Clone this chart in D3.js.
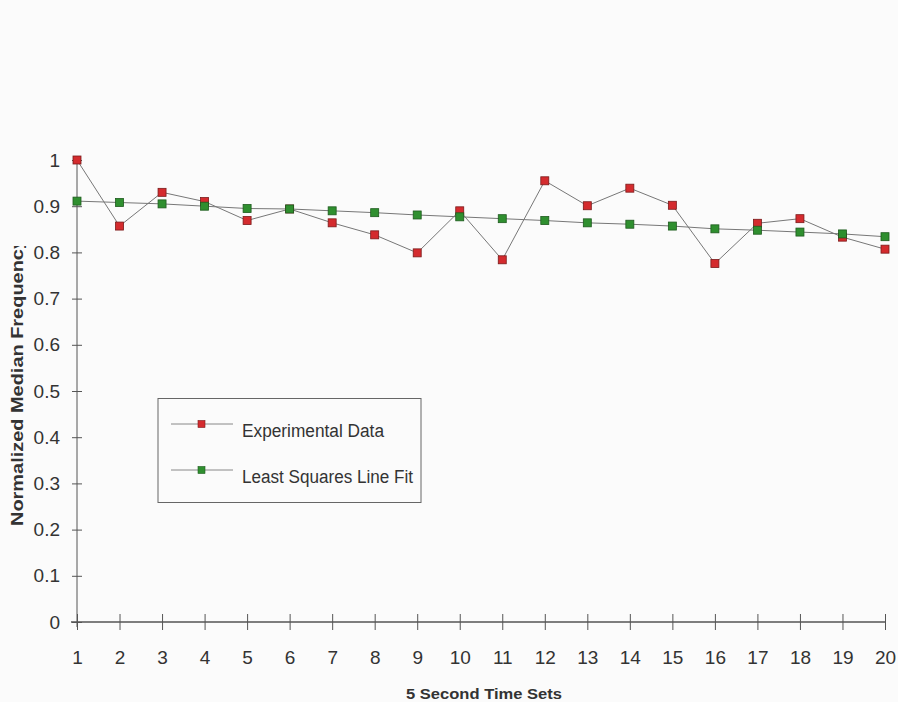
<!DOCTYPE html>
<html>
<head>
<meta charset="utf-8">
<script src="https://cdn.jsdelivr.net/npm/d3@7/dist/d3.min.js"></script>
<style>
  html, body { margin: 0; padding: 0; background: #fbfbfb; }
  svg { display: block; font-family: "Liberation Sans", Arial, sans-serif; }
</style>
</head>
<body>
<svg id="chart" width="898" height="702"></svg>
<script>
// Time set indices (5-second windows)
const timeSets = d3.range(1, 21);

// Normalized median frequency per time set
const experimental = [1.000, 0.857, 0.930, 0.910, 0.869, 0.894, 0.864, 0.838, 0.799, 0.890,
                      0.784, 0.955, 0.901, 0.939, 0.902, 0.776, 0.863, 0.873, 0.833, 0.807];

// Least squares line fit evaluated at each time set
const lineFit = [0.911, 0.908, 0.905, 0.900, 0.895, 0.894, 0.890, 0.886, 0.881, 0.877,
                 0.873, 0.869, 0.864, 0.861, 0.857, 0.851, 0.848, 0.844, 0.840, 0.834];

const yTicks = [0, 0.1, 0.2, 0.3, 0.4, 0.5, 0.6, 0.7, 0.8, 0.9, 1];
const yTickLabels = ["0", "0.1", "0.2", "0.3", "0.4", "0.5", "0.6", "0.7", "0.8", "0.9", "1"];

const seriesNames = ["Experimental Data", "Least Squares Line Fit"];
const seriesColors = ["#d42b2e", "#2f8f2f"];
const seriesStroke = ["#7a1a1a", "#1d5a1d"];

const svg = d3.select("#chart");

const x = d3.scaleLinear().domain([1, 20]).range([77, 885]);
const y = d3.scaleLinear().domain([0, 1]).range([622, 160]);

// Axes
const axisColor = "#555";
svg.append("line")
  .attr("x1", x(1)).attr("x2", x(1))
  .attr("y1", y(1)).attr("y2", y(0) + 5)
  .attr("stroke", axisColor).attr("stroke-width", 1);
svg.append("line")
  .attr("x1", x(1) - 6).attr("x2", x(20))
  .attr("y1", y(0)).attr("y2", y(0))
  .attr("stroke", axisColor).attr("stroke-width", 1.3);

const yAxis = d3.axisLeft(y).tickValues(yTicks)
  .tickFormat((d, i) => yTickLabels[i]).tickSizeInner(0).tickSizeOuter(0).tickPadding(17);
const gy = svg.append("g").attr("transform", `translate(${x(1)},0)`).call(yAxis);
gy.select(".domain").remove();
gy.selectAll(".tick line").remove();
gy.selectAll(".tick").append("line")
  .attr("x1", -5).attr("x2", 5).attr("stroke", axisColor);
gy.selectAll(".tick text")
  .attr("font-size", 19).attr("fill", "#333")
  .attr("font-family", "Liberation Sans, Arial, sans-serif");

const xAxis = d3.axisBottom(x).tickValues(timeSets)
  .tickFormat(d3.format("d")).tickSizeInner(0).tickSizeOuter(0).tickPadding(29);
const gx = svg.append("g").attr("transform", `translate(0,${y(0)})`).call(xAxis);
gx.select(".domain").remove();
gx.selectAll(".tick line").remove();
gx.selectAll(".tick").append("line")
  .attr("y1", -8).attr("y2", 8).attr("stroke", axisColor);
gx.selectAll(".tick text")
  .attr("font-size", 19).attr("fill", "#333")
  .attr("font-family", "Liberation Sans, Arial, sans-serif");

// Axis titles
svg.append("text")
  .attr("x", 484).attr("y", 699)
  .attr("text-anchor", "middle")
  .attr("font-size", 15).attr("font-weight", "bold").attr("fill", "#333")
  .attr("textLength", 156).attr("lengthAdjust", "spacingAndGlyphs")
  .text("5 Second Time Sets");

// The y title runs past the top of its frame and is cut off there
svg.append("clipPath").attr("id", "ytitle-clip")
  .append("rect").attr("x", 0).attr("y", 246).attr("width", 40).attr("height", 300);
svg.append("g").attr("clip-path", "url(#ytitle-clip)")
  .append("text")
  .attr("transform", "translate(23,526) rotate(-90)")
  .attr("text-anchor", "start")
  .attr("font-size", 17).attr("font-weight", "bold").attr("fill", "#333")
  .attr("textLength", 288).attr("lengthAdjust", "spacingAndGlyphs")
  .text("Normalized Median Frequency");

// Series lines and markers
const series = [experimental, lineFit];
const line = d3.line().x((d, i) => x(timeSets[i])).y(d => y(d));

series.forEach((vals, s) => {
  svg.append("path")
    .datum(vals)
    .attr("d", line)
    .attr("fill", "none")
    .attr("stroke", "#777")
    .attr("stroke-width", 1);
});

// Fit markers drawn above the data so overlaps show green on top
[0, 1].forEach(s => {
  svg.append("g").selectAll("rect")
    .data(series[s])
    .join("rect")
    .attr("x", (d, i) => x(timeSets[i]) - 4)
    .attr("y", d => y(d) - 4)
    .attr("width", 8).attr("height", 8)
    .attr("fill", seriesColors[s])
    .attr("stroke", seriesStroke[s])
    .attr("stroke-width", 0.8);
});

// Legend
const legend = svg.append("g");
legend.append("rect")
  .attr("x", 158).attr("y", 398.5).attr("width", 263).attr("height", 104)
  .attr("fill", "#fbfbfb").attr("stroke", "#666").attr("stroke-width", 1);

const legendRows = [424, 470];
seriesNames.forEach((name, s) => {
  const ly = legendRows[s];
  legend.append("line")
    .attr("x1", 171).attr("x2", 233).attr("y1", ly).attr("y2", ly)
    .attr("stroke", "#888").attr("stroke-width", 1);
  legend.append("rect")
    .attr("x", 198).attr("y", ly - 3.5).attr("width", 7).attr("height", 7)
    .attr("fill", seriesColors[s]).attr("stroke", seriesStroke[s]).attr("stroke-width", 0.6);
  legend.append("text")
    .attr("x", 242).attr("y", ly + 13)
    .attr("font-size", 18).attr("fill", "#333")
    .attr("textLength", s === 0 ? 142 : 171).attr("lengthAdjust", "spacingAndGlyphs")
    .text(name);
});
</script>
</body>
</html>
